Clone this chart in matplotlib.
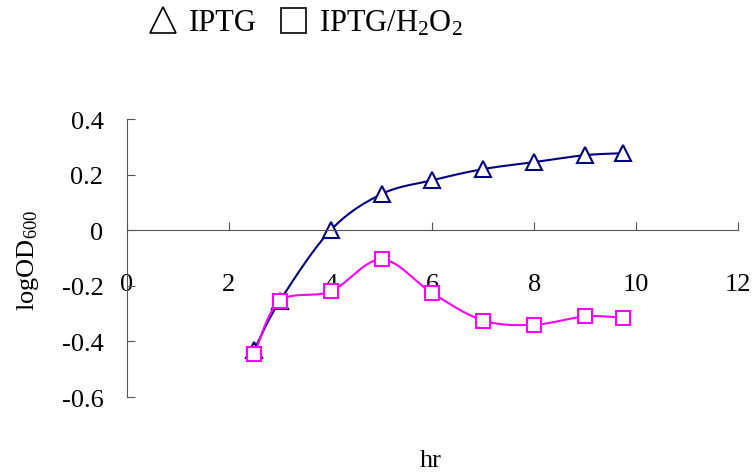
import matplotlib
matplotlib.use("Agg")
import matplotlib.pyplot as plt
from matplotlib.lines import Line2D
import numpy as np

plt.rcParams['font.family'] = ['Liberation Serif', 'DejaVu Serif']
plt.rcParams['mathtext.fontset'] = 'custom'
plt.rcParams['mathtext.rm'] = 'Liberation Serif'
plt.rcParams['mathtext.it'] = 'Liberation Serif:italic'

hours = [2.5, 3, 4, 5, 6, 7, 8, 9, 9.75]
iptg = [-0.43, -0.255, 0.0, 0.13, 0.18, 0.22, 0.245, 0.27, 0.277]
iptg_h2o2 = [-0.445, -0.255, -0.22, -0.105, -0.227, -0.325, -0.34, -0.31, -0.315]

NAVY = "#000080"
MAGENTA = "#ff00ff"


def smooth(x, y, n=30):
    # catmull-rom style curve, like excel's smoothed line
    x = np.asarray(x, float)
    y = np.asarray(y, float)
    px = np.concatenate([[x[0]], x, [x[-1]]])
    py = np.concatenate([[y[0]], y, [y[-1]]])
    xs, ys = [], []
    t = np.linspace(0, 1, n)
    for i in range(1, len(px) - 2):
        p0, p1, p2, p3 = [np.array([px[j], py[j]]) for j in (i - 1, i, i + 1, i + 2)]
        c1 = p1 + (p2 - p0) / 6
        c2 = p2 - (p3 - p1) / 6
        b = ((1 - t) ** 3)[:, None] * p1 + (3 * (1 - t) ** 2 * t)[:, None] * c1 \
            + (3 * (1 - t) * t ** 2)[:, None] * c2 + (t ** 3)[:, None] * p2
        xs.extend(b[:, 0])
        ys.extend(b[:, 1])
    return xs, ys


fig = plt.figure(figsize=(7.56, 4.77), dpi=100)
ax = fig.add_axes([0.168, 0.1656, 0.808, 0.5828])

sx, sy = smooth(hours, iptg)
ax.plot(sx, sy, color=NAVY, lw=1.5)
ax.plot(hours, iptg, ls="none", marker="^", ms=12, mfc="white", mec=NAVY, mew=1.5)

sx, sy = smooth(hours, iptg_h2o2)
ax.plot(sx, sy, color=MAGENTA, lw=1.5)
ax.plot(hours, iptg_h2o2, ls="none", marker="s", ms=10, mfc="white", mec=MAGENTA, mew=1.5)

ax.set_xlim(0, 12)
ax.set_ylim(-0.6, 0.4)
ax.set_xticks(range(0, 13, 2))
ax.set_yticks([-0.6, -0.4, -0.2, 0, 0.2, 0.4])
ax.set_yticklabels(["-0.6", "-0.4", "-0.2", "0", "0.2", "0.4"])

ax.spines['top'].set_visible(False)
ax.spines['right'].set_visible(False)
ax.spines['bottom'].set_position(('data', 0))
ax.spines['left'].set_color("#555555")
ax.spines['bottom'].set_color("#555555")

ax.tick_params(axis='x', direction='in', length=6, pad=31, labelsize=19, color="#555555")
ax.tick_params(axis='y', direction='in', length=6, pad=17, labelsize=19, color="#555555")

fig.text(0.57, 0.01, "hr", fontsize=19, ha="center", va="bottom")
fig.text(0.037, 0.455, "logOD$_{600}$", fontsize=19, rotation=90, ha="center", va="center")

handles = [
    Line2D([], [], ls="none", marker="^", ms=19, mfc="white", mec="black", mew=1.2),
    Line2D([], [], ls="none", marker="s", ms=18, mfc="white", mec="black", mew=1.2),
]
fig.legend(handles, ["IPTG", "IPTG/H$_2$O$_2$"], loc="upper left", bbox_to_anchor=(0.175, 1.02),
           ncol=2, frameon=False, fontsize=22, handlelength=0.8, handletextpad=0.45,
           columnspacing=0.8, borderaxespad=0.2)

fig.savefig("out.png", dpi=100)
